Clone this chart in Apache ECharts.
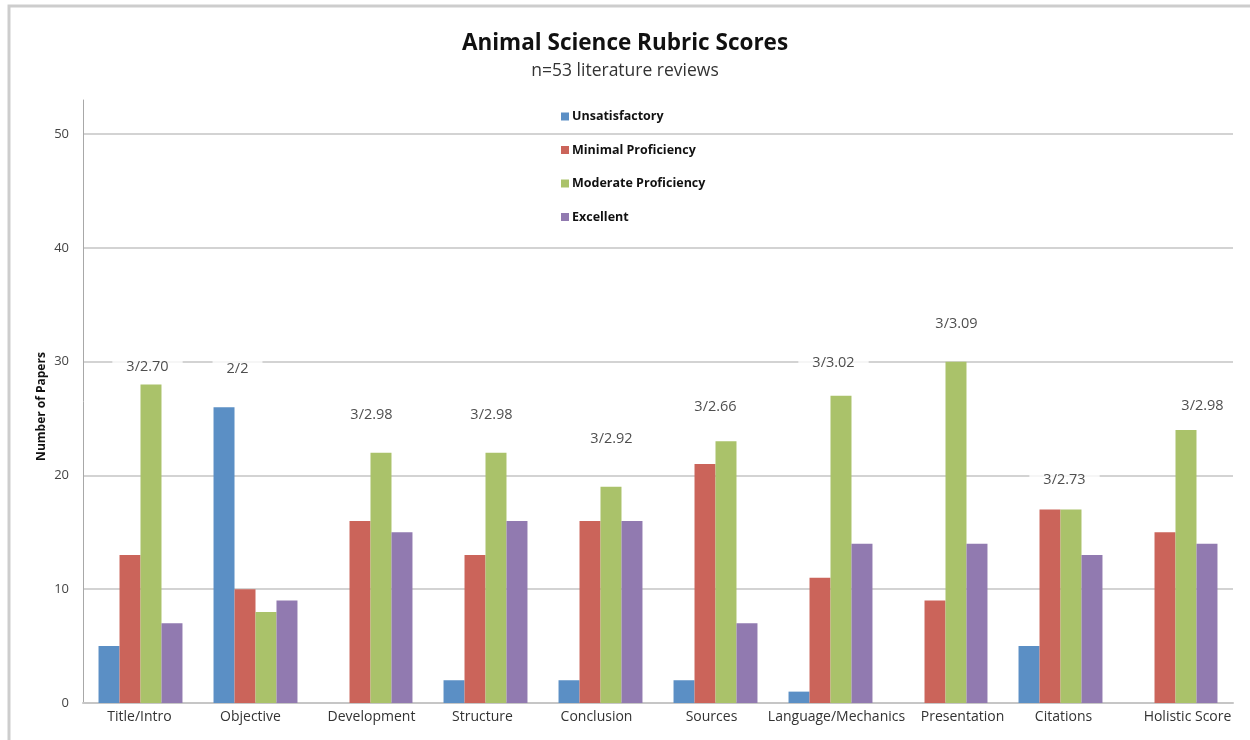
<!DOCTYPE html>
<html>
<head>
<meta charset="utf-8">
<script src="https://cdn.jsdelivr.net/npm/echarts@6/dist/echarts.min.js"></script>
<style>
  html, body { margin: 0; padding: 0; background: #fff; }
  #chart { width: 1250px; height: 740px; }
</style>
</head>
<body>
<div id="chart"></div>
<script>
// Rubric criteria along the x axis
const categories = ['Title/Intro', 'Objective', 'Development', 'Structure', 'Conclusion',
  'Sources', 'Language/Mechanics', 'Presentation', 'Citations', 'Holistic Score'];

// Number of papers at each proficiency level
const unsatisfactory      = [5, 26, 0, 2, 2, 2, 1, 0, 5, 0];
const minimalProficiency  = [13, 10, 16, 13, 16, 21, 11, 9, 17, 15];
const moderateProficiency = [28, 8, 22, 22, 19, 23, 27, 30, 17, 24];
const excellent           = [7, 9, 15, 16, 16, 7, 14, 14, 13, 14];

// Median / mean score annotation for each criterion
const medianMean = ['3/2.70', '2/2', '3/2.98', '3/2.98', '3/2.92',
  '3/2.66', '3/3.02', '3/3.09', '3/2.73', '3/2.98'];

const yTicks = [0, 10, 20, 30, 40, 50];

// Where each annotation sits: height on the value axis and a small sideways nudge (px)
const noteHeight = [29.5, 29.4, 25.3, 25.3, 23.2, 26.0, 29.9, 33.3, 19.6, 26.1];
const noteShift  = [7, -18, 1, 6, 11, 0, 3, 11, 4, 27];
// Sideways nudge (px) of each category name under its group
const tickShift  = [-1, -5, 1, -3, -4, -4, 6, 17, 3, 12];

const seriesDefs = [
  { name: 'Unsatisfactory', data: unsatisfactory, color: '#5b8fc5' },
  { name: 'Minimal Proficiency', data: minimalProficiency, color: '#cb645a' },
  { name: 'Moderate Proficiency', data: moderateProficiency, color: '#aac26a' },
  { name: 'Excellent', data: excellent, color: '#917ab0' }
];

const font = '"Open Sans", "Liberation Sans", sans-serif';

const chart = echarts.init(document.getElementById('chart'), null, { renderer: 'canvas' });

const barSeries = seriesDefs.map(s => ({
  name: s.name,
  type: 'bar',
  data: s.data,
  barGap: '0%',
  barCategoryGap: '27%',
  itemStyle: { color: s.color },
  z: 3
}));

const noteSeries = {
  type: 'scatter',
  symbolSize: 0,
  silent: true,
  z: 5,
  data: categories.map((c, i) => ({
    value: [i, noteHeight[i]],
    label: { offset: [noteShift[i], 0] }
  })),
  label: {
    show: true,
    position: 'inside',
    formatter: p => medianMean[p.dataIndex],
    color: '#222',
    fontFamily: font,
    fontSize: 14.5,
    backgroundColor: '#ffffff',
    padding: [3, 14, 3, 14]
  }
};

// One rich style per category so each name can be nudged sideways
const tickRich = {};
tickShift.forEach((s, i) => {
  tickRich['t' + i] = {
    fontFamily: font, fontSize: 14, color: '#333',
    padding: s >= 0 ? [0, 0, 0, 2 * s] : [0, -2 * s, 0, 0]
  };
});

chart.setOption({
  backgroundColor: '#ffffff',
  animation: false,
  title: {
    text: 'Animal Science Rubric Scores',
    subtext: 'n=53 literature reviews',
    left: 'center',
    top: 27,
    itemGap: 7,
    textStyle: { fontFamily: font, fontSize: 22.5, fontWeight: 'bold', color: '#111' },
    subtextStyle: { fontFamily: font, fontSize: 17.5, color: '#333' }
  },
  legend: {
    orient: 'vertical',
    left: 556,
    top: 105,
    itemWidth: 8,
    itemHeight: 8,
    itemGap: 20.5,
    icon: 'rect',
    data: seriesDefs.map(s => s.name),
    textStyle: { fontFamily: font, fontSize: 12.5, fontWeight: 'bold', color: '#111', padding: [0, 0, 0, -2] }
  },
  grid: { left: 83, right: 17, top: 100, bottom: 37, containLabel: false },
  xAxis: {
    type: 'category',
    data: categories,
    axisLine: { lineStyle: { color: '#c6c6c6', width: 2 } },
    axisTick: { show: false },
    axisLabel: {
      fontFamily: font, fontSize: 14, color: '#333', margin: 7, interval: 0,
      formatter: (v, i) => '{t' + i + '|' + v + '}',
      rich: tickRich
    }
  },
  yAxis: {
    type: 'value',
    min: 0,
    max: 53,
    interval: 10,
    name: 'Number of Papers',
    nameLocation: 'middle',
    nameGap: 35,
    nameMoveOverlap: false,
    nameTextStyle: { fontFamily: font, fontSize: 12, fontWeight: 'bold', color: '#111', padding: [0, 0, 0, -10] },
    axisLine: { show: true, lineStyle: { color: '#a8a8a8', width: 1 } },
    axisTick: { show: false },
    axisLabel: {
      fontFamily: font, fontSize: 13, color: '#444', margin: 14,
      showMaxLabel: false,
      formatter: v => (yTicks.indexOf(v) >= 0 ? String(v) : '')
    },
    splitLine: { show: true, showMaxLine: false, lineStyle: { color: '#d3d3d3', width: 2 } }
  },
  graphic: [{
    type: 'rect',
    silent: true,
    shape: { x: 9, y: 6, width: 1400, height: 900 },
    style: { fill: 'none', stroke: '#cdcdcd', lineWidth: 3 },
    z: 0
  }],
  series: [...barSeries, noteSeries]
});
</script>
</body>
</html>
